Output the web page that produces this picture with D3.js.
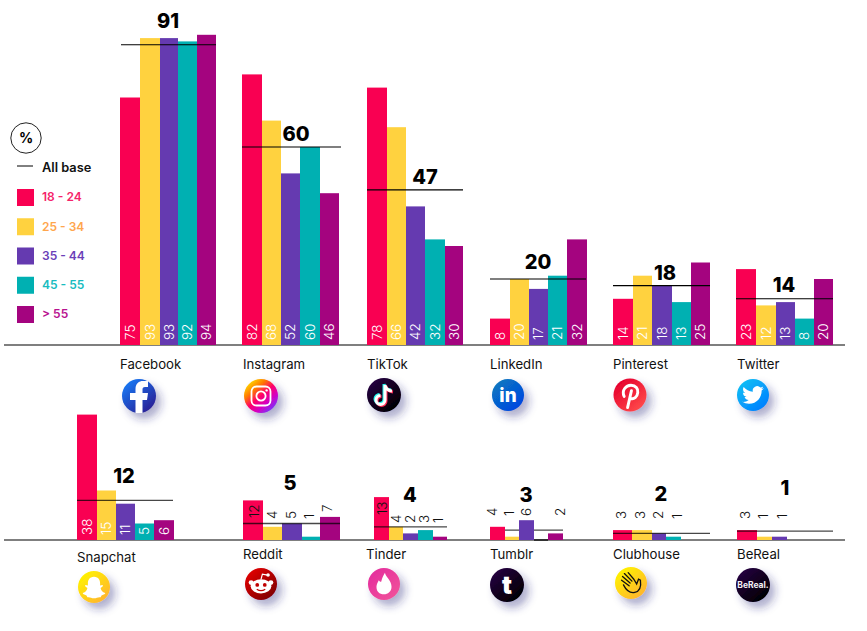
<!DOCTYPE html>
<html>
<head>
<meta charset="utf-8">
<script src="https://cdn.jsdelivr.net/npm/d3@7"></script>
<style>
html, body { margin: 0; padding: 0; background: #fff; }
text { font-family: Inter, "Open Sans", sans-serif; }
</style>
</head>
<body>
<div class="chart"></div>
<script>
const platforms = ["Facebook", "Instagram", "TikTok", "LinkedIn", "Pinterest", "Twitter",
  "Snapchat", "Reddit", "Tinder", "Tumblr", "Clubhouse", "BeReal"];
const ages = ["18 - 24", "25 - 34", "35 - 44", "45 - 55", "> 55"];
const allBase = [91, 60, 47, 20, 18, 14, 12, 5, 4, 3, 2, 1];
// the BeReal line sits higher in the picture than its printed 1
const allBaseLine = [91, 60, 47, 20, 18, 14, 12, 5, 4, 3, 2, 2.7];
const age18 = [75, 82, 78, 8, 14, 23, 38, 12, 13, 4, 3, 3];
const age25 = [93, 68, 66, 20, 21, 12, 15, 4, 4, 1, 3, 1];
const age35 = [93, 52, 42, 17, 18, 13, 11, 5, 2, 6, 2, 1];
const age45 = [92, 60, 32, 21, 13, 8, 5, 1, 3, null, 1, null];
const age55 = [94, 46, 30, 32, 25, 20, 6, 7, 1, 2, null, null];
const series = [age18, age25, age35, age45, age55];

const barColors = ["#f90052", "#ffd23f", "#653ab0", "#00b0b2", "#a4047f"];
const legendColors = ["#f5246a", "#ffa64d", "#6b3fb8", "#18bcc0", "#b8128f"];

// layout
const layout = [
  { edges: [120, 140, 160, 178, 197, 216], line: [121, 216], num: [168, 21], name: [120, 364], icon: [139, 396, 17], row: 0 },
  { edges: [242, 262, 281, 300, 320, 339], line: [242, 341], num: [296, 134], name: [243, 364], icon: [261, 396, 17], row: 0 },
  { edges: [367, 387, 406, 425, 445, 463], line: [367, 463], num: [425, 177], name: [367, 364], icon: [384, 395, 17], row: 0 },
  { edges: [490, 510, 529, 548, 567, 587], line: [490, 586], num: [538, 262], name: [490, 364], icon: [508, 395, 16], row: 0 },
  { edges: [613, 633, 652, 672, 691, 710], line: [613, 710], num: [665, 273], name: [613, 364], icon: [630, 395, 16.5], row: 0 },
  { edges: [736, 756, 776, 795, 814, 833], line: [736, 833], num: [784, 285], name: [737, 364], icon: [753, 395, 16], row: 0 },
  { edges: [77, 97, 116, 135, 154, 174], line: [77, 173], num: [124, 476], name: [77, 557], icon: [94, 587, 16], row: 1 },
  { edges: [243, 263, 282, 302, 320, 340], line: [243, 340], num: [290, 483], name: [243, 554], icon: [261, 584, 16], row: 1,
    lab: [254, 18.4], labBottom: [518, 519, 519, 519, 512] },
  { edges: [374, 389, 403, 418, 433, 447], line: [374, 447], num: [410, 495], name: [366, 554], icon: [384, 584, 16], row: 1,
    lab: [382, 14], labBottom: [515, 523, 523, 523, 523] },
  { edges: [490, 505, 519, 534, 548, 563], line: [490, 563], num: [526, 495], name: [490, 554], icon: [507, 585, 17], row: 1, behind: true,
    lab: [492, 17], labBottom: [516, 516, 516, 516, 516], stub: [534, 548] },
  { edges: [613, 632, 652, 666, 681], line: [613, 710], num: [661, 494], name: [613, 554], icon: [631, 583, 16], row: 1,
    lab: [621, 18.7], labBottom: [519, 519, 519, 519] },
  { edges: [737, 757, 772, 787], line: [737, 833], num: [785, 488], name: [737, 554], icon: [753, 585, 17], row: 1,
    lab: [745, 18.5], labBottom: [519, 519, 519] }
];

const width = 867, height = 631;
const bases = [345, 540];
const yScales = bases.map(b => d3.scaleLinear().domain([0, 100]).range([b, b - 330]));

const svg = d3.select(".chart").append("svg")
  .attr("width", width).attr("height", height)
  .style("display", "block");
const defs = svg.append("defs");

const shadow = defs.append("filter").attr("id", "shadow")
  .attr("x", "-50%").attr("y", "-50%").attr("width", "220%").attr("height", "220%");
shadow.append("feDropShadow")
  .attr("dx", 5).attr("dy", 6).attr("stdDeviation", 4)
  .attr("flood-color", "#24247a").attr("flood-opacity", 0.38);

function gradient(id, stops) {
  const g = defs.append("linearGradient").attr("id", id)
    .attr("x1", "15%").attr("y1", "10%").attr("x2", "85%").attr("y2", "90%");
  stops.forEach((c, i) => g.append("stop").attr("offset", i / (stops.length - 1)).attr("stop-color", c));
}
gradient("g0", ["#1877f2", "#2a1f96"]);
gradient("g1", ["#ffd600", "#ff7a00", "#ff0069", "#d300c5", "#7638fa"]);
gradient("g2", ["#24003f", "#000000"]);
gradient("g3", ["#0a77c0", "#0046e0"]);
gradient("g4", ["#e6002d", "#ff4a4a"]);
gradient("g5", ["#12bdf5", "#0080ff"]);
gradient("g6", ["#fff200", "#ffb52e"]);
gradient("g7", ["#e00000", "#800000"]);
gradient("g8", ["#e52f9d", "#f0509a"]);
gradient("g9", ["#24003f", "#000000"]);
gradient("g10", ["#fff200", "#ffb52e"]);
gradient("g11", ["#24003f", "#000000"]);

// baselines
bases.forEach(b => {
  svg.append("line").attr("x1", 4).attr("x2", 845).attr("y1", b).attr("y2", b)
    .attr("stroke", "#555").attr("stroke-width", 1.4);
});

function drawLine(g, d, i, y) {
  g.append("line")
    .attr("x1", d.line[0]).attr("x2", d.line[1])
    .attr("y1", y(allBaseLine[i])).attr("y2", y(allBaseLine[i]))
    .attr("stroke", "#000")
    .attr("stroke-opacity", d.row ? 0.72 : 1)
    .attr("stroke-width", d.row ? 1.3 : 1.1);
}

platforms.forEach((name, i) => {
  const d = layout[i], y = yScales[d.row], base = bases[d.row];
  const x = d3.scaleLinear().domain(d3.range(d.edges.length)).range(d.edges);
  const g = svg.append("g").attr("class", "platform");
  const vals = series.map(s => s[i]);

  if (d.behind) drawLine(g, d, i, y);

  g.selectAll("rect")
    .data(vals.map((v, k) => ({ v, k })).filter(e => e.v !== null))
    .join("rect")
    .attr("x", e => x(e.k))
    .attr("width", e => x(e.k + 1) - x(e.k))
    .attr("y", e => y(e.v))
    .attr("height", e => base - y(e.v))
    .attr("fill", e => barColors[e.k]);

  if (!d.behind) drawLine(g, d, i, y);

  // empty Tumblr bar shows as a darker bit of the baseline
  if (d.stub) {
    g.append("line").attr("x1", d.stub[0]).attr("x2", d.stub[1]).attr("y1", base).attr("y2", base)
      .attr("stroke", "#111").attr("stroke-width", 1.4);
  }

  const labX = d.lab
    ? (k => d.lab[0] + d.lab[1] * k)
    : (k => (x(k) + x(k + 1)) / 2);
  g.selectAll("text.val")
    .data(vals.map((v, k) => ({ v, k })).filter(e => e.v !== null))
    .join("text")
    .attr("class", "val")
    .attr("transform", e => `translate(${labX(e.k)},${d.lab ? d.labBottom[e.k] : base - 5}) rotate(-90)`)
    .attr("dy", "0.36em")
    .attr("font-size", 13.5)
    .attr("font-weight", 300)
    .attr("fill", d.lab ? "#111" : "#fff")
    .text(e => e.v);

  g.append("text")
    .attr("x", d.num[0]).attr("y", d.num[1])
    .attr("dy", "0.36em").attr("text-anchor", "middle")
    .attr("font-size", 20).attr("font-weight", 800).attr("fill", "#000")
    .text(allBase[i]);

  g.append("text")
    .attr("x", d.name[0]).attr("y", d.name[1])
    .attr("dy", "0.36em")
    .attr("font-size", 13.2).attr("fill", "#111")
    .text(name);

  drawIcon(i, d.icon);
});

function drawIcon(i, ic) {
  const g = svg.append("g").attr("transform", `translate(${ic[0]},${ic[1]})`);
  const r = ic[2];
  g.append("circle").attr("r", r).attr("fill", `url(#g${i})`).attr("filter", "url(#shadow)");
  const k = r / 17;
  const s = g.append("g").attr("transform", `scale(${k})`);
  const w = "#fff";
  if (i === 0) {
    s.append("path").attr("fill", w)
      .attr("d", "M-3.5,17 V4 H-9 V-3 H-3.5 V-7 C-3.5,-12.5 0,-15 4,-15 H9 V-9 H6 C4,-9 3.5,-8 3.5,-6.5 V-3 H9 L8,4 H3.5 V17 Z");
  } else if (i === 1) {
    s.append("rect").attr("x", -9.5).attr("y", -9.5).attr("width", 19).attr("height", 19).attr("rx", 5)
      .attr("fill", "none").attr("stroke", w).attr("stroke-width", 1.8);
    s.append("circle").attr("r", 4.6).attr("fill", "none").attr("stroke", w).attr("stroke-width", 1.8);
    s.append("circle").attr("cx", 5.6).attr("cy", -5.6).attr("r", 1.2).attr("fill", w);
  } else if (i === 2) {
    const note = "M1,-10 V5 A4.5,4.5 0 1 1 -3.5,0.5 M1,-10 C1.5,-6 4,-4.5 8,-4";
    [["#25f4ee", -1, -1], ["#fe2c55", 1, 1], [w, 0, 0]].forEach(n => {
      s.append("path").attr("d", note).attr("fill", "none").attr("stroke", n[0])
        .attr("stroke-width", 3).attr("transform", `translate(${n[1]},${n[2]})`);
    });
  } else if (i === 3) {
    s.append("text").attr("text-anchor", "middle").attr("dy", "0.36em").attr("font-size", 20)
      .attr("font-weight", 800).attr("fill", w).text("in");
  } else if (i === 4) {
    s.append("path").attr("fill", "none").attr("stroke", w).attr("stroke-width", 3).attr("stroke-linecap", "round")
      .attr("d", "M-6,1.5 C-9,-5 -4,-10 1,-10 C6,-10 8.5,-6.5 8,-2.5 C7.5,2 4,5 0.5,3.5 M1.5,-4.5 L-2.5,13");
  } else if (i === 5) {
    s.append("path").attr("fill", w).attr("transform", "translate(-11.5,-11.5) scale(0.96)")
      .attr("d", "M23.953 4.57a10 10 0 01-2.825.775 4.958 4.958 0 002.163-2.723c-.951.555-2.005.959-3.127 1.184a4.92 4.92 0 00-8.384 4.482C7.69 8.095 4.067 6.13 1.64 3.162a4.822 4.822 0 00-.666 2.475c0 1.71.87 3.213 2.188 4.096a4.904 4.904 0 01-2.228-.616v.06a4.923 4.923 0 003.946 4.827 4.996 4.996 0 01-2.212.085 4.936 4.936 0 004.604 3.417 9.867 9.867 0 01-6.102 2.105c-.39 0-.779-.023-1.17-.067a13.995 13.995 0 007.557 2.209c9.053 0 13.998-7.496 13.985-14.202 0-.209 0-.42-.015-.63A9.935 9.935 0 0024 4.59z");
  } else if (i === 6) {
    s.append("path").attr("fill", w)
      .attr("d", "M0,-11 C5,-11 6.5,-7 6.5,-4 L6.5,-1.5 L9,-2 C10,-1.5 9.5,0 7,1 C7.5,4 10,6 12,6.5 C12,8 9,8.5 8,9 L7,11 C4,10.5 3,12 0,12 C-3,12 -4,10.5 -7,11 L-8,9 C-9,8.5 -12,8 -12,6.5 C-10,6 -7.5,4 -7,1 C-9.5,0 -10,-1.5 -9,-2 L-6.5,-1.5 L-6.5,-4 C-6.5,-7 -5,-11 0,-11 Z");
  } else if (i === 7) {
    s.append("ellipse").attr("cy", 2.5).attr("rx", 11).attr("ry", 7.5).attr("fill", w);
    s.append("circle").attr("cx", -10.5).attr("cy", -1.5).attr("r", 2.6).attr("fill", w);
    s.append("circle").attr("cx", 10.5).attr("cy", -1.5).attr("r", 2.6).attr("fill", w);
    s.append("path").attr("d", "M0,-5 L1.5,-10.5 L7,-9.5").attr("fill", "none").attr("stroke", w).attr("stroke-width", 1.3);
    s.append("circle").attr("cx", 7.5).attr("cy", -9.5).attr("r", 1.9).attr("fill", w);
    s.append("circle").attr("cx", -4).attr("cy", 1).attr("r", 2).attr("fill", "#c00000");
    s.append("circle").attr("cx", 4).attr("cy", 1).attr("r", 2).attr("fill", "#c00000");
    s.append("path").attr("d", "M-4.5,5.5 Q0,8.5 4.5,5.5").attr("fill", "none").attr("stroke", "#c00000").attr("stroke-width", 1.2);
  } else if (i === 8) {
    s.append("path").attr("fill", w)
      .attr("d", "M1,-12 C2,-7 8,-4 8,3 C8,8 4,11 0,11 C-5,11 -8,8 -8,3 C-8,0 -6.5,-2 -5.5,-4 C-4.5,-2.5 -3.5,-2 -3,-2.5 C-2,-6 -1,-9 1,-12 Z");
  } else if (i === 9) {
    s.append("text").attr("text-anchor", "middle").attr("dy", "0.36em").attr("font-size", 25)
      .attr("font-weight", 900).attr("fill", w).text("t");
  } else if (i === 10) {
    s.append("path").attr("fill", "none").attr("stroke", "#111").attr("stroke-width", 1.4).attr("stroke-linecap", "round")
      .attr("d", "M-9,-7 L-1,0 M-10,-3 L-2,3 M-7,-10 L1,-2 M-3,-11 L3,-4 M-8,2 C-5,8 -1,11 4,10 C9,9 11,4 10,-3 L8,-4 L6,1 L3,-4");
  } else {
    s.append("text").attr("text-anchor", "middle").attr("dy", "0.36em").attr("font-size", 8.5)
      .attr("font-weight", 700).attr("fill", "#f3f0f6").text("BeReal.");
  }
}

// legend
const legend = svg.append("g").attr("class", "legend");
legend.append("circle").attr("cx", 26).attr("cy", 138).attr("r", 15.2)
  .attr("fill", "none").attr("stroke", "#222").attr("stroke-width", 1);
legend.append("text").attr("x", 26).attr("y", 138).attr("dy", "0.36em").attr("text-anchor", "middle")
  .attr("font-size", 14).attr("font-weight", 700).attr("fill", "#000").text("%");
legend.append("line").attr("x1", 17).attr("x2", 33).attr("y1", 166).attr("y2", 166).attr("stroke", "#000");
legend.append("text").attr("x", 42).attr("y", 167).attr("dy", "0.36em")
  .attr("font-size", 12.8).attr("font-weight", 600).attr("fill", "#111").text("All base");

const legendY = d3.scalePoint().domain(ages).range([197.5, 314.5]);
legend.selectAll("rect").data(ages).join("rect")
  .attr("x", 17).attr("y", d => legendY(d) - 8.5)
  .attr("width", 17).attr("height", 17)
  .attr("fill", (d, i) => barColors[i]);
legend.selectAll("text.age").data(ages).join("text")
  .attr("class", "age")
  .attr("x", 42).attr("y", d => legendY(d) - 0.5)
  .attr("dy", "0.36em")
  .attr("font-size", 12).attr("font-weight", 600)
  .attr("fill", (d, i) => legendColors[i])
  .text(d => d);
</script>
</body>
</html>
